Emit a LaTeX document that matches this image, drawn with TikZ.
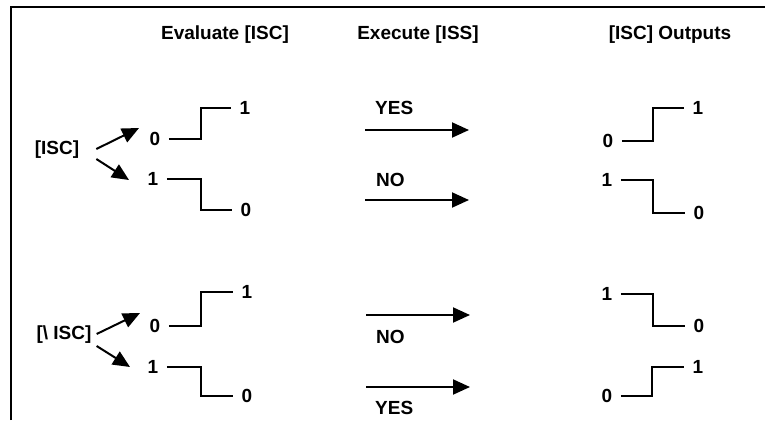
\documentclass[tikz,border=0pt]{standalone}
\usepackage{fontspec}
\setmainfont{Liberation Sans}
\usetikzlibrary{arrows.meta}
\begin{document}
\begin{tikzpicture}[x=1pt,y=-1pt,
  lbl/.style={font=\bfseries\fontsize{19}{22}\selectfont, inner sep=0pt},
  dig/.style={lbl, inner xsep=8.5pt},
  wire/.style={line width=2pt},
  arr/.style={line width=2pt,-{Triangle[length=17pt,width=15pt]}},
]
\useasboundingbox (0,0) rectangle (765,420);
% outer frame (open at the right and bottom)
\draw[line width=2.2pt] (11,420) -- (11,7) -- (765,7);

% column headings
\node[lbl] (h1) at (225,35) {Evaluate [ISC]};
\node[lbl] (h2) at (418,35) {Execute [ISS]};
\node[lbl] (h3) at (670,35) {[ISC] Outputs};

% ---- upper block: [ISC] ----
\node[lbl] (isc) at (57,150) {[ISC]};
\node[dig] (a0) at (155,139) {0};
\node[dig] (a1) at (245,108) {1};
\node[dig] (b1) at (153,179) {1};
\node[dig] (b0) at (246,210) {0};
\draw[arr] ([shift={(17,-1)}]isc.east) -- ([shift={(-2,-11)}]a0.west);
\draw[arr] ([shift={(17,9)}]isc.east) -- ([shift={(-10,1)}]b1.west);
\draw[wire] (a0.east) -- ++(32,0) |- (a1.west);
\draw[wire] (b1.east) -- ++(34,0) |- (b0.west);

\coordinate (p1s) at (365,130); \coordinate (p1e) at (469,130);
\coordinate (p2s) at (365,200); \coordinate (p2e) at (469,200);
\draw[arr] (p1s) -- (p1e);
\draw[arr] (p2s) -- (p2e);
\node[lbl, anchor=west] (yes1) at (375,108) {YES};
\node[lbl, anchor=west] (no1) at (376,180) {NO};

\node[dig] (e0) at (608,141) {0};
\node[dig] (e1) at (698,108) {1};
\node[dig] (f1) at (607,180) {1};
\node[dig] (f0) at (699,213) {0};
\draw[wire] (e0.east) -- ++(31,0) |- (e1.west);
\draw[wire] (f1.east) -- ++(32,0) |- (f0.west);

% ---- lower block: [\ ISC] ----
\node[lbl] (nisc) at (64,335) {[\textbackslash\ ISC]};
\node[dig] (c0) at (155,326) {0};
\node[dig] (c1) at (247,292) {1};
\node[dig] (d1) at (153,367) {1};
\node[dig] (d0) at (247,396) {0};
\draw[arr] ([shift={(5,-1)}]nisc.east) -- ([shift={(-1,-13)}]c0.west);
\draw[arr] ([shift={(5,11)}]nisc.east) -- ([shift={(-9,0)}]d1.west);
\draw[wire] (c0.east) -- ++(32,0) |- (c1.west);
\draw[wire] (d1.east) -- ++(34,0) |- (d0.west);

\coordinate (p3s) at (366,315); \coordinate (p3e) at (470,315);
\coordinate (p4s) at (366,387); \coordinate (p4e) at (470,387);
\draw[arr] (p3s) -- (p3e);
\draw[arr] (p4s) -- (p4e);
\node[lbl, anchor=west] (no2) at (376,337) {NO};
\node[lbl, anchor=west] (yes2) at (375,408) {YES};

\node[dig] (g1) at (607,294) {1};
\node[dig] (g0) at (699,326) {0};
\node[dig] (k0) at (607,396) {0};
\node[dig] (k1) at (698,367) {1};
\draw[wire] (g1.east) -- ++(32,0) |- (g0.west);
\draw[wire] (k0.east) -- ++(31,0) |- (k1.west);
\end{tikzpicture}
\end{document}
